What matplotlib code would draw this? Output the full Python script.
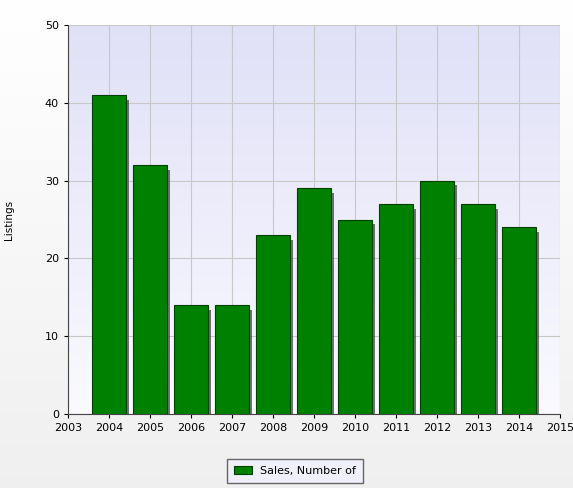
import matplotlib
matplotlib.use("Agg")
import matplotlib.pyplot as plt
import numpy as np
from matplotlib.patches import Rectangle

years = [2004, 2005, 2006, 2007, 2008, 2009, 2010, 2011, 2012, 2013, 2014]
sales = [41, 32, 14, 14, 23, 29, 25, 27, 30, 27, 24]
xticks = list(range(2003, 2016))

W, H = 573, 488
fig = plt.figure(figsize=(W/100, H/100), dpi=100)
bg = fig.add_axes([0, 0, 1, 1], zorder=-10)
grad = np.linspace(1.0, 0.94, 256).reshape(-1, 1)
bg.imshow(np.dstack([grad, grad, grad]), aspect='auto', extent=[0, 1, 0, 1], origin='upper')
bg.axis('off')

ax = fig.add_axes([68/W, 1-414/H, (560-68)/W, (414-25)/H])
g = np.linspace(0, 1, 256).reshape(-1, 1)
top = np.array([0.88, 0.88, 0.97]); bot = np.array([0.98, 0.98, 1.0])
img = top[None, None, :] * (1-g[..., None]) + bot[None, None, :] * g[..., None]
ax.imshow(img, aspect='auto', extent=[2003, 2015, 0, 50], zorder=0, origin='upper')
ax.set_xlim(2003, 2015)
ax.set_ylim(0, 50)
ax.grid(True, color='#c8c8c8', linewidth=0.8, zorder=1)
ax.set_axisbelow(True)
w = 0.82
for x, v in zip(years, sales):
    ax.add_patch(Rectangle((x - w/2 + 0.07, -0.6), w, v, color='#444444', alpha=0.75, zorder=2, linewidth=0))
ax.bar(years, sales, width=w, color='#008000', edgecolor='#004000', linewidth=0.8, zorder=3, label='Sales, Number of')
ax.set_xticks(xticks)
ax.set_yticks(range(0, 51, 10))
ax.tick_params(labelsize=8, length=3)
for s in ['top', 'right']:
    ax.spines[s].set_visible(False)
ax.spines['left'].set_color('#444444'); ax.spines['bottom'].set_color('#444444')
ax.set_ylabel('Listings', fontsize=7.5, labelpad=22)
leg = fig.legend(loc='center', bbox_to_anchor=(295/W, 1-471/H), fontsize=8, frameon=True,
                 fancybox=False, edgecolor='#444444', handlelength=1.6, borderpad=0.6)
leg.get_frame().set_facecolor('#f0f0ff')
fig.savefig('out.png', dpi=100)
